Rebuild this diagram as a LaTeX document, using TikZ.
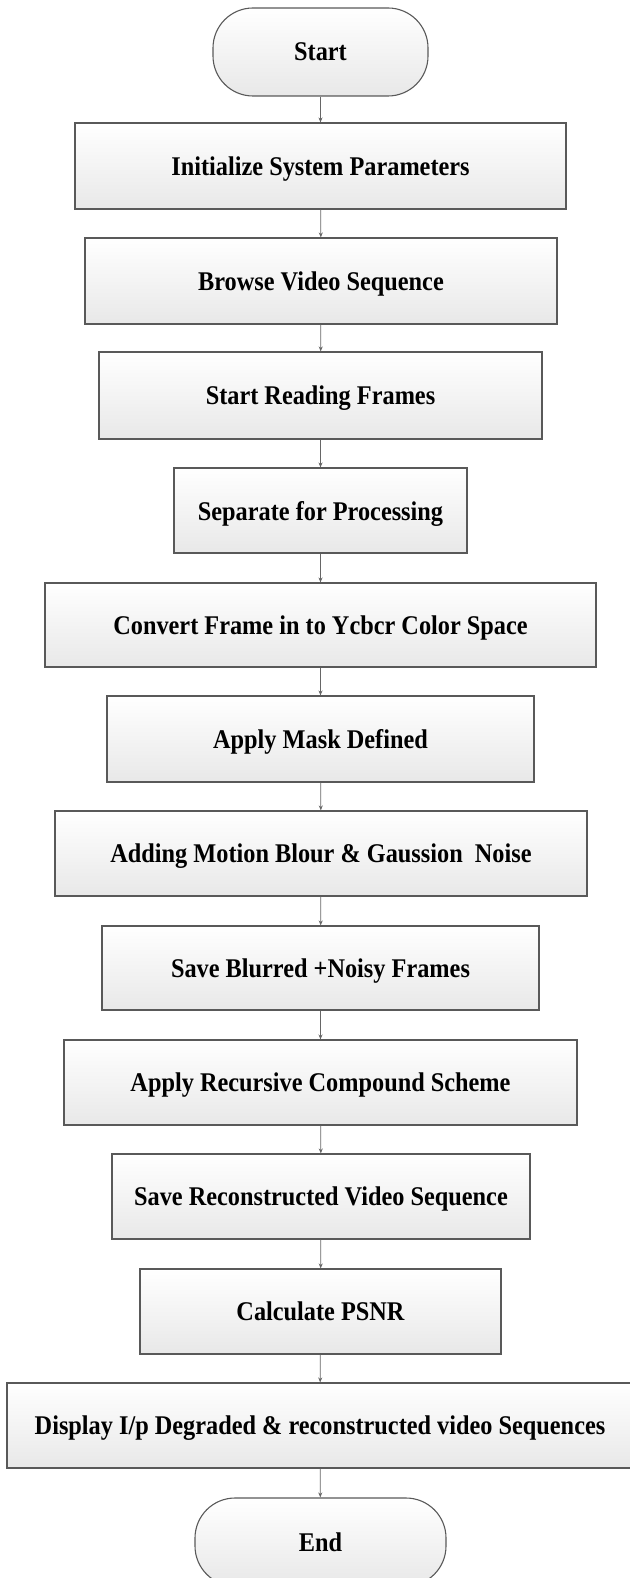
\documentclass[tikz,border=0pt]{standalone}
\usepackage{fontspec}
\setmainfont[FakeStretch=0.9]{Liberation Serif}
\usetikzlibrary{arrows.meta}
\tikzset{x=1pt,y=1pt,
    stepbox/.style={draw=black!65,line width=1.1pt,top color=white,bottom color=black!9,
        inner sep=0pt,text depth=0pt,font=\fontsize{27}{30}\selectfont\bfseries},
    termbox/.style={stepbox,rounded corners=40pt},
    flow/.style={draw=black!60,line width=0.8pt,-{Stealth[length=5pt,width=4pt]}},
    }
\begin{document}
\begin{tikzpicture}
	\useasboundingbox (0,0) rectangle (629,-1578);
	% start / end
	\node[termbox,minimum width=215,minimum height=88] (start) at (320.5,-52) {Start};
	\node[termbox,minimum width=251,minimum height=88] (end) at (320.5,-1542) {End};
	% steps
	\node[stepbox,minimum width=491,minimum height=86] (init) at (320.5,-166) {Initialize System Parameters};
	\node[stepbox,minimum width=472,minimum height=86] (browse) at (321,-281) {Browse Video Sequence};
	\node[stepbox,minimum width=443,minimum height=87] (reading) at (320.5,-395.5) {Start Reading Frames};
	\node[stepbox,minimum width=293,minimum height=85] (separate) at (320.5,-510.5) {Separate for Processing};
	\node[stepbox,minimum width=551,minimum height=84] (convert) at (320.5,-625) {Convert Frame in to Ycbcr Color Space};
	\node[stepbox,minimum width=427,minimum height=86] (mask) at (320.5,-739) {Apply Mask Defined};
	\node[stepbox,minimum width=532,minimum height=85] (motion) at (321,-853.5) {Adding Motion Blour \& Gaussion\ \ Noise};
	\node[stepbox,minimum width=437,minimum height=84] (saveblur) at (320.5,-968) {Save Blurred +Noisy Frames};
	\node[stepbox,minimum width=513,minimum height=85] (recursive) at (320.5,-1082.5) {Apply Recursive Compound Scheme};
	\node[stepbox,minimum width=418,minimum height=85] (saverec) at (321,-1196.5) {Save Reconstructed Video Sequence};
	\node[stepbox,minimum width=361,minimum height=85] (psnr) at (320.5,-1311.5) {Calculate PSNR};
	\node[stepbox,minimum width=626,minimum height=85] (display) at (320,-1425.5) {Display I/p Degraded \& reconstructed video Sequences};
	% connectors
	\draw[flow] (start) -- (init);
	\draw[flow] (init) -- (browse);
	\draw[flow] (browse) -- (reading);
	\draw[flow] (reading) -- (separate);
	\draw[flow] (separate) -- (convert);
	\draw[flow] (convert) -- (mask);
	\draw[flow] (mask) -- (motion);
	\draw[flow] (motion) -- (saveblur);
	\draw[flow] (saveblur) -- (recursive);
	\draw[flow] (recursive) -- (saverec);
	\draw[flow] (saverec) -- (psnr);
	\draw[flow] (psnr) -- (display);
	\draw[flow] (display) -- (end);
\end{tikzpicture}
\end{document}
